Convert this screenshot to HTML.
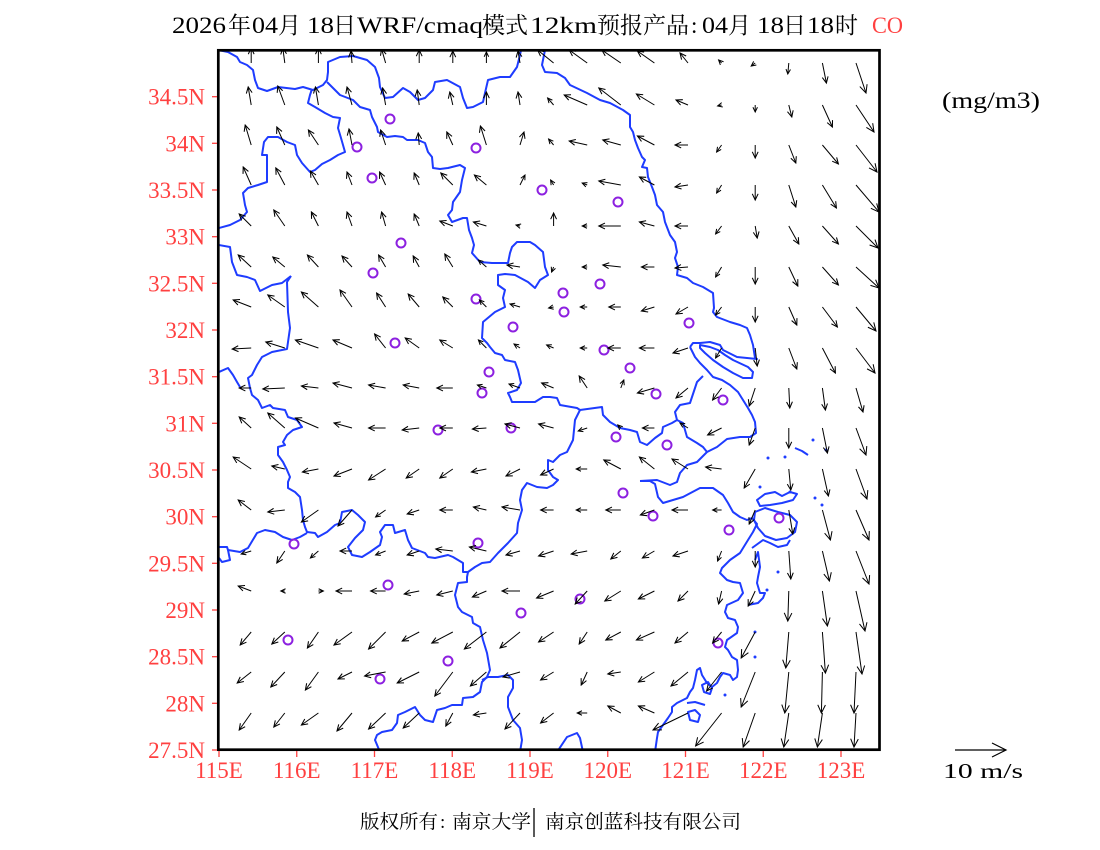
<!DOCTYPE html>
<html><head><meta charset="utf-8"><style>
html,body{margin:0;padding:0;background:#fff;}
svg{display:block;}
.b{fill:none;stroke:#1e3cff;stroke-width:2;stroke-linejoin:round;}
.c{fill:none;stroke:#8c20e0;stroke-width:2;}
.a path{fill:none;stroke:#000;stroke-width:1;}
.s{marker-end:url(#hs);}
.m{marker-end:url(#hm);}
.l{marker-end:url(#hl);}
.lb{font-family:"Liberation Serif",serif;font-size:23px;fill:#ff4040;}
.t{font-family:"Liberation Serif","Noto Serif CJK SC",serif;font-size:23px;fill:#000;}
.f{font-family:"Liberation Serif","Noto Serif CJK SC",serif;font-size:19px;fill:#000;}
</style></head><body>
<svg width="1100" height="850" viewBox="0 0 1100 850" xmlns="http://www.w3.org/2000/svg">
<defs>
<clipPath id="cp"><rect x="219.5" y="51.5" width="659" height="697"/></clipPath>
<marker id="hs" markerUnits="userSpaceOnUse" viewBox="0 0 10 10" refX="9.5" refY="5" markerWidth="5" markerHeight="5" orient="auto" overflow="visible"><path d="M0,0.5L9.5,5L0,9.5" fill="none" stroke="#000" stroke-width="2"/></marker>
<marker id="hm" markerUnits="userSpaceOnUse" viewBox="0 0 10 10" refX="9.5" refY="5" markerWidth="6.5" markerHeight="6.5" orient="auto" overflow="visible"><path d="M0,0.5L9.5,5L0,9.5" fill="none" stroke="#000" stroke-width="1.6"/></marker>
<marker id="hl" markerUnits="userSpaceOnUse" viewBox="0 0 10 10" refX="9.5" refY="5" markerWidth="8.5" markerHeight="8.5" orient="auto" overflow="visible"><path d="M0,0.5L9.5,5L0,9.5" fill="none" stroke="#000" stroke-width="1.2"/></marker>
</defs>
<rect width="1100" height="850" fill="#fff"/>

<!-- Title -->
<text class="t" x="172" y="33" textLength="54" lengthAdjust="spacingAndGlyphs">2026</text>
<text class="t" x="228" y="33">年</text>
<text class="t" x="252" y="33" textLength="26" lengthAdjust="spacingAndGlyphs">04</text>
<text class="t" x="278" y="33">月</text>
<text class="t" x="307" y="33" textLength="27" lengthAdjust="spacingAndGlyphs">18</text>
<text class="t" x="333" y="33">日</text>
<text class="t" x="357" y="33" textLength="126" lengthAdjust="spacingAndGlyphs">WRF/cmaq</text>
<text class="t" x="482" y="33">模式</text>
<text class="t" x="530" y="33" textLength="67" lengthAdjust="spacingAndGlyphs">12km</text>
<text class="t" x="597" y="33">预报产品</text>
<text class="t" x="691" y="33">:</text>
<text class="t" x="702" y="33" textLength="26" lengthAdjust="spacingAndGlyphs">04</text>
<text class="t" x="728" y="33">月</text>
<text class="t" x="757" y="33" textLength="27" lengthAdjust="spacingAndGlyphs">18</text>
<text class="t" x="783" y="33">日</text>
<text class="t" x="807" y="33" textLength="27" lengthAdjust="spacingAndGlyphs">18</text>
<text class="t" x="835" y="33">时</text>
<text class="t" x="872" y="33" textLength="31" lengthAdjust="spacingAndGlyphs" style="fill:#ff4040">CO</text>

<text class="t" x="942" y="108" textLength="98" lengthAdjust="spacingAndGlyphs">(mg/m3)</text>

<!-- map content -->
<g clip-path="url(#cp)">
<g class="b">
<polyline points="218,50 228,52 237,57 240,62 247,65 253,70 255,80 258,88 267,91 278,87 295,89 303,87 313,90 323,85 327,80 328,72 328,62 340,57 353,56 367,60 375,67 379,78 380,87 385,98 393,97 403,88 410,92 418,100 425,98 433,90 435,82 447,80 460,87 463,98 467,108 473,107 483,102 485,93 488,80 500,77 510,77 517,67 520,55 521,50"/>
<polyline points="327,82 330,85 340,95 353,100 360,107 370,110 372,117 377,127 378,132 387,137 395,136 403,137 407,140 418,140 425,143 428,152 432,157 433,168 440,169 448,168 460,165 465,168 462,180 460,192 453,202 452,210 448,215 452,222 463,218 467,218 469,230 472,238 474,245 472,253 480,262 492,263 508,263 510,253 512,247 517,242 530,242 535,245 543,252 545,267 548,275 540,280 535,288 528,282 515,275 505,274 498,275 498,285 505,290 503,298 505,307 495,312 483,322 482,338 487,343 490,347 495,353 502,355 505,360 515,362 518,370 521,383 517,390 508,393 510,397 512,402 535,402 543,397 550,397 557,398 560,405 577,408 580,410 602,407 603,415 610,422 620,428 630,430 637,432 640,442 647,445 655,438 662,433 663,427 672,423 677,420 675,412 680,405 690,403 692,397 695,388 697,382 703,376"/>
<polyline points="312,89 310,95 308,103 315,107 325,113 333,117 340,118 338,128 341,138 345,152 338,155 330,160 322,164 315,170 310,172 302,163 297,155 295,145 287,142 278,137 268,137 264,142 262,155 267,155 267,170 267,182 258,185 248,188 243,193 245,205 247,212 240,220 230,225 219,228"/>
<polyline points="219,245 230,247 232,262 237,275 247,277 255,280 260,291 272,285 282,283 291,276"/>
<polyline points="291,276 287,282 288,312 290,328 287,349 272,352 262,357 257,365 252,375 248,378 250,388 252,395 258,400 262,408 270,405 273,408 285,410 288,417 297,420 302,427 293,430 287,435 283,442 285,445 278,447 278,455 283,462 287,470 290,477 288,482 288,488 295,492 300,497 302,510 303,520 305,527 307,532 315,533 318,537 327,532 335,525 340,523 342,512 352,510 358,515 365,522 363,530 355,538 348,547 352,555 362,557 370,552 380,545 382,537 380,532 385,525 393,525 395,533 405,530 408,540 412,548 425,553 428,557 435,558 448,555 453,557 463,563 463,572 468,572 467,577 467,582 458,583 455,595 458,607 462,612 472,617 473,623 480,627 483,640 487,653 490,670 487,677 482,682 480,692 473,697 463,698 462,705 452,705 445,708 437,710 433,722 425,720 420,715 415,707 405,712 398,715 397,723 392,730 382,732 377,735 375,740 380,752"/>
<polyline points="219,372 228,368 233,375 237,382 240,387"/>
<polyline points="219,547 227,547 228,550 240,552 248,548 257,533 265,530 275,532 283,537 292,540 300,537 307,533"/>
<polyline points="228,550 230,560 222,562 219,558"/>
<polyline points="468,572 475,567 482,563 490,562 498,553 508,543 517,533 518,523 522,510 520,500 522,490 527,483 537,487 547,488 553,485 558,480 553,477 548,470 548,460 553,462 560,455 567,452 573,440 575,420 580,410"/>
<polyline points="482,680 488,677 498,677 508,675 513,680 513,688 508,697 508,707 513,720 520,728 522,740 520,752"/>
<polyline points="557,752 567,737 577,733 580,738 583,752"/>
<polyline points="545,50 542,65 545,72 557,73 565,78 570,85 587,93 600,100 610,103 623,110 630,115 630,127 633,132 635,140 638,148 642,157 645,160 642,167 647,168 648,177 652,187 655,195 657,205 663,212 665,222 670,235 675,242 677,252 675,258 678,267 677,275 687,278 693,283 703,287 713,293 714,308 713,312 717,317 730,322 740,325 747,328 750,335 753,345 755,358 757,359 737,357 723,350 720,345 710,342 700,343 693,343 690,347"/>
<polyline points="690,347 695,357 700,363 707,370 713,377 722,380 730,385 738,392 743,400 748,408 752,415 755,422 756,433 750,437 740,437 727,439 717,447 707,452 697,462 687,465 680,473 677,482 670,485 657,480 640,481"/>
<polyline points="677,420 683,423 687,437 697,443 703,447 707,452"/>
<polygon points="700,345 710,347 718,350 725,355 733,360 748,367 753,372 752,378 743,378 733,373 723,367 713,360 705,353 700,348"/>
<polyline points="640,481 650,481 655,484 658,497 663,503 673,500 683,497 700,488 713,488 723,495 728,503 733,512 740,517 747,520 752,518 757,524 753,532 748,540 740,553 730,560 722,568 720,573 727,580 733,582 740,583 743,593 738,600 727,605 725,612 728,618 735,620 738,627 737,633 727,640 725,647 728,650 732,657 737,660 738,670 737,677 733,680 730,675 723,673 720,677 717,683 712,687 707,683 702,675 700,668 697,670 695,680 693,688 690,692 687,698 677,703 672,707 672,712 668,718 663,725 658,732 657,738 655,752"/>
<polygon points="757,500 765,494 775,492 782,496 790,492 797,494 793,500 782,503 770,505 760,506"/>
<polygon points="755,512 765,508 778,512 790,515 797,522 795,532 787,538 776,540 765,536 758,528 754,520"/>
<polyline points="752,548 763,540 770,543 778,547 787,545 790,540"/>
<polyline points="755,560 758,552 760,567 758,577 757,583 760,593 765,593 763,598 758,603 748,605"/>
<polygon points="702,685 708,682 712,688 710,694 704,692"/>
<polyline points="687,703 695,702 705,705"/>
<polygon points="688,712 695,710 700,715 698,722 690,720"/>
<polyline points="795,448 802,451 808,455"/>
</g>
<g fill="#1e3cff">
<circle cx="768" cy="458" r="1.5"/><circle cx="785" cy="457" r="1.5"/><circle cx="813" cy="440" r="1.5"/><circle cx="826" cy="450" r="1.5"/><circle cx="760" cy="487" r="1.5"/><circle cx="815" cy="498" r="1.5"/><circle cx="822" cy="505" r="1.5"/><circle cx="778" cy="572" r="1.5"/><circle cx="767" cy="590" r="1.5"/><circle cx="755" cy="632" r="1.5"/><circle cx="755" cy="657" r="1.5"/><circle cx="725" cy="695" r="1.5"/><circle cx="790" cy="492" r="1.5"/>
</g>

<g class="c">
<circle cx="390" cy="119" r="4.5"/><circle cx="357" cy="147" r="4.5"/><circle cx="476" cy="148" r="4.5"/><circle cx="372" cy="178" r="4.5"/><circle cx="542" cy="190" r="4.5"/><circle cx="618" cy="202" r="4.5"/><circle cx="401" cy="243" r="4.5"/><circle cx="373" cy="273" r="4.5"/><circle cx="600" cy="284" r="4.5"/><circle cx="563" cy="293" r="4.5"/><circle cx="476" cy="299" r="4.5"/><circle cx="564" cy="312" r="4.5"/><circle cx="513" cy="327" r="4.5"/><circle cx="689" cy="323" r="4.5"/><circle cx="395" cy="343" r="4.5"/><circle cx="604" cy="350" r="4.5"/><circle cx="630" cy="368" r="4.5"/><circle cx="489" cy="372" r="4.5"/><circle cx="482" cy="393" r="4.5"/><circle cx="656" cy="394" r="4.5"/><circle cx="723" cy="400" r="4.5"/><circle cx="438" cy="430" r="4.5"/><circle cx="511" cy="428" r="4.5"/><circle cx="616" cy="437" r="4.5"/><circle cx="667" cy="445" r="4.5"/><circle cx="623" cy="493" r="4.5"/><circle cx="653" cy="516" r="4.5"/><circle cx="729" cy="530" r="4.5"/><circle cx="779" cy="518" r="4.5"/><circle cx="294" cy="544" r="4.5"/><circle cx="478" cy="543" r="4.5"/><circle cx="388" cy="585" r="4.5"/><circle cx="580" cy="599" r="4.5"/><circle cx="521" cy="613" r="4.5"/><circle cx="288" cy="640" r="4.5"/><circle cx="718" cy="643" r="4.5"/><circle cx="448" cy="661" r="4.5"/><circle cx="380" cy="679" r="4.5"/>
</g>

<g class="a">
<path class="m" d="M251.2,63l0,-15"/><path class="m" d="M284.8,63l-2,-15"/><path class="m" d="M318.4,63l0,-15"/><path class="m" d="M352,63l-1,-12"/><path class="m" d="M385.6,63l-4,-14"/><path class="m" d="M419.2,63l0,-13"/><path class="m" d="M452.8,63l0,-12"/><path class="s" d="M486.4,63l0,-11"/><path class="m" d="M520,63l-2,-12"/><path class="m" d="M553.6,63l-16,-13"/><path class="m" d="M587.2,63l-18,-13"/><path class="m" d="M620.8,63l-19,-13"/><path class="m" d="M654.4,63l-17,-12"/><path class="m" d="M688,63l-8,-10"/><path class="s" d="M721.6,63l-3,-3"/><path class="s" d="M755.2,63l-4,3"/><path class="s" d="M788.8,63l-1,11"/><path class="m" d="M822.4,63l4,20"/><path class="l" d="M856,63l10,30"/>
<path class="m" d="M251.2,105l-3,-18"/><path class="m" d="M284.8,105l-7,-19"/><path class="m" d="M318.4,105l-3,-18"/><path class="m" d="M352,105l-5,-18"/><path class="m" d="M385.6,105l-3,-17"/><path class="m" d="M419.2,105l-2,-15"/><path class="m" d="M452.8,105l-3,-13"/><path class="m" d="M486.4,105l0,-13"/><path class="m" d="M520,105l-2,-13"/><path class="s" d="M553.6,105l-6,-7"/><path class="m" d="M587.2,105l-23,-10"/><path class="m" d="M620.8,105l-22,-17"/><path class="m" d="M654.4,105l-18,-11"/><path class="m" d="M688,105l-12,-5"/><path class="s" d="M721.6,105l-4,1"/><path class="s" d="M755.2,105l0,7"/><path class="m" d="M788.8,105l3,12"/><path class="m" d="M822.4,105l10,22"/><path class="l" d="M856,105l18,27"/>
<path class="m" d="M251.2,145l-6,-20"/><path class="m" d="M284.8,145l-8,-18"/><path class="m" d="M318.4,145l-10,-15"/><path class="m" d="M352,145l-3,-16"/><path class="m" d="M385.6,145l-5,-15"/><path class="m" d="M419.2,145l-1,-12"/><path class="m" d="M452.8,145l-6,-13"/><path class="m" d="M486.4,145l-6,-19"/><path class="m" d="M520,145l4,-13"/><path class="s" d="M553.6,145l-5,-6"/><path class="m" d="M587.2,145l-18,-4"/><path class="m" d="M620.8,145l-18,-5"/><path class="m" d="M654.4,145l-17,-9"/><path class="m" d="M688,145l-13,0"/><path class="s" d="M721.6,145l-5,7"/><path class="m" d="M755.2,145l0,13"/><path class="m" d="M788.8,145l7,18"/><path class="m" d="M822.4,145l16,19"/><path class="l" d="M856,145l21,27"/>
<path class="m" d="M251.2,185l-8,-18"/><path class="m" d="M284.8,185l-9,-17"/><path class="m" d="M318.4,185l-8,-14"/><path class="m" d="M352,185l-5,-13"/><path class="m" d="M385.6,185l-6,-13"/><path class="m" d="M419.2,185l-5,-12"/><path class="m" d="M452.8,185l-12,-12"/><path class="m" d="M486.4,185l-12,-10"/><path class="s" d="M520,185l5,-10"/><path class="s" d="M553.6,185l-3,-5"/><path class="s" d="M587.2,185l-5,-2"/><path class="m" d="M620.8,185l-22,-4"/><path class="m" d="M654.4,185l-15,-8"/><path class="m" d="M688,185l-13,2"/><path class="s" d="M721.6,185l-5,8"/><path class="m" d="M755.2,185l0,15"/><path class="m" d="M788.8,185l7,22"/><path class="m" d="M822.4,185l14,23"/><path class="l" d="M856,185l23,27"/>
<path class="m" d="M251.2,226l-12,-12"/><path class="m" d="M284.8,226l-11,-16"/><path class="m" d="M318.4,226l-7,-14"/><path class="m" d="M352,226l-5,-14"/><path class="m" d="M385.6,226l-4,-14"/><path class="m" d="M419.2,226l-5,-12"/><path class="m" d="M452.8,226l-13,-5"/><path class="m" d="M486.4,226l-13,-4"/><path class="s" d="M520,226l-4,-1"/><path class="m" d="M553.6,226l0,-13"/><path class="s" d="M587.2,226l-5,0"/><path class="m" d="M620.8,226l-22,0"/><path class="m" d="M654.4,226l-15,-4"/><path class="m" d="M688,226l-13,0"/><path class="s" d="M721.6,226l-6,8"/><path class="m" d="M755.2,226l2,12"/><path class="m" d="M788.8,226l10,18"/><path class="m" d="M822.4,226l16,18"/><path class="l" d="M856,226l22,22"/>
<path class="m" d="M251.2,267l-13,-12"/><path class="m" d="M284.8,267l-12,-10"/><path class="m" d="M318.4,267l-11,-12"/><path class="m" d="M352,267l-10,-11"/><path class="m" d="M385.6,267l-7,-12"/><path class="m" d="M419.2,267l-6,-11"/><path class="m" d="M452.8,267l-8,-13"/><path class="s" d="M486.4,267l-8,-7"/><path class="m" d="M520,267l-13,-2"/><path class="s" d="M553.6,267l-2,5"/><path class="s" d="M587.2,267l-5,0"/><path class="m" d="M620.8,267l-18,-2"/><path class="m" d="M654.4,267l-13,0"/><path class="m" d="M688,267l-13,1"/><path class="s" d="M721.6,267l-6,10"/><path class="m" d="M755.2,267l0,17"/><path class="m" d="M788.8,267l9,19"/><path class="m" d="M822.4,267l16,18"/><path class="l" d="M856,267l23,21"/>
<path class="m" d="M251.2,307l-18,-7"/><path class="m" d="M284.8,307l-17,-12"/><path class="m" d="M318.4,307l-17,-15"/><path class="m" d="M352,307l-12,-17"/><path class="m" d="M385.6,307l-9,-14"/><path class="m" d="M419.2,307l-11,-13"/><path class="m" d="M452.8,307l-10,-10"/><path class="s" d="M486.4,307l-7,-7"/><path class="s" d="M520,307l-10,-3"/><path class="s" d="M553.6,307l-5,1"/><path class="s" d="M587.2,307l-7,0"/><path class="m" d="M620.8,307l-12,0"/><path class="m" d="M654.4,307l-13,4"/><path class="m" d="M688,307l-12,7"/><path class="s" d="M721.6,307l-6,8"/><path class="m" d="M755.2,307l0,15"/><path class="m" d="M788.8,307l8,18"/><path class="m" d="M822.4,307l15,20"/><path class="l" d="M856,307l20,24"/>
<path class="m" d="M251.2,348l-19,1"/><path class="m" d="M284.8,348l-19,-6"/><path class="m" d="M318.4,348l-23,-8"/><path class="m" d="M352,348l-19,-8"/><path class="m" d="M385.6,348l-11,-14"/><path class="m" d="M419.2,348l-14,-10"/><path class="m" d="M452.8,348l-13,-8"/><path class="s" d="M486.4,348l-8,-8"/><path class="s" d="M520,348l-6,-4"/><path class="s" d="M553.6,348l-7,-3"/><path class="s" d="M587.2,348l-7,0"/><path class="m" d="M620.8,348l-13,0"/><path class="m" d="M654.4,348l-15,0"/><path class="m" d="M688,348l-15,5"/><path class="s" d="M721.6,348l-6,10"/><path class="m" d="M755.2,348l2,18"/><path class="m" d="M788.8,348l8,21"/><path class="m" d="M822.4,348l13,25"/><path class="l" d="M856,348l19,25"/>
<path class="m" d="M251.2,388l-12,0"/><path class="m" d="M284.8,388l-22,1"/><path class="m" d="M318.4,388l-17,-2"/><path class="m" d="M352,388l-19,-5"/><path class="m" d="M385.6,388l-17,-3"/><path class="m" d="M419.2,388l-16,-3"/><path class="m" d="M452.8,388l-16,0"/><path class="s" d="M486.4,388l-9,-3"/><path class="s" d="M520,388l-11,-4"/><path class="m" d="M553.6,388l-12,-5"/><path class="m" d="M587.2,388l-8,-12"/><path class="s" d="M620.8,388l3,-8"/><path class="m" d="M654.4,388l-17,5"/><path class="m" d="M688,388l-12,10"/><path class="m" d="M721.6,388l-9,12"/><path class="m" d="M755.2,388l-6,18"/><path class="m" d="M788.8,388l1,20"/><path class="m" d="M822.4,388l3,22"/><path class="m" d="M856,388l7,24"/>
<path class="m" d="M251.2,428l-12,-11"/><path class="m" d="M284.8,428l-17,-15"/><path class="m" d="M318.4,428l-23,-10"/><path class="m" d="M352,428l-18,-5"/><path class="m" d="M385.6,428l-17,0"/><path class="m" d="M419.2,428l-17,2"/><path class="m" d="M452.8,428l-13,0"/><path class="m" d="M486.4,428l-14,1"/><path class="m" d="M520,428l-15,-4"/><path class="m" d="M553.6,428l-15,-4"/><path class="s" d="M587.2,428l-9,3"/><path class="s" d="M620.8,428l-3,-3"/><path class="m" d="M654.4,428l-12,0"/><path class="s" d="M688,428l-8,-5"/><path class="m" d="M721.6,428l-14,7"/><path class="m" d="M755.2,428l-6,17"/><path class="m" d="M788.8,428l0,20"/><path class="m" d="M822.4,428l5,25"/><path class="l" d="M856,428l10,27"/>
<path class="m" d="M251.2,469l-18,-12"/><path class="m" d="M284.8,469l-13,-3"/><path class="m" d="M318.4,469l-16,3"/><path class="m" d="M352,469l-18,7"/><path class="m" d="M385.6,469l-17,11"/><path class="m" d="M419.2,469l-13,9"/><path class="m" d="M452.8,469l-13,9"/><path class="m" d="M486.4,469l-15,3"/><path class="m" d="M520,469l-14,7"/><path class="m" d="M553.6,469l-13,6"/><path class="s" d="M587.2,469l-11,0"/><path class="m" d="M620.8,469l-17,-9"/><path class="m" d="M654.4,469l-15,-12"/><path class="m" d="M688,469l-16,-10"/><path class="m" d="M721.6,469l-16,-2"/><path class="m" d="M755.2,469l-11,19"/><path class="m" d="M788.8,469l2,21"/><path class="m" d="M822.4,469l6,27"/><path class="l" d="M856,469l11,30"/>
<path class="m" d="M251.2,510l-13,-10"/><path class="m" d="M284.8,510l-17,2"/><path class="m" d="M318.4,510l-17,12"/><path class="m" d="M352,510l-14,16"/><path class="s" d="M385.6,510l-10,7"/><path class="m" d="M419.2,510l-12,4"/><path class="m" d="M452.8,510l-13,0"/><path class="m" d="M486.4,510l-13,-3"/><path class="m" d="M520,510l-18,-3"/><path class="m" d="M553.6,510l-13,0"/><path class="s" d="M587.2,510l-11,0"/><path class="m" d="M620.8,510l-15,0"/><path class="m" d="M654.4,510l-14,5"/><path class="m" d="M688,510l-16,0"/><path class="s" d="M721.6,510l-9,0"/><path class="m" d="M755.2,510l-6,14"/><path class="m" d="M788.8,510l4,24"/><path class="l" d="M822.4,510l8,30"/><path class="l" d="M856,510l13,30"/>
<path class="s" d="M251.2,551l-10,3"/><path class="m" d="M284.8,551l-8,12"/><path class="s" d="M318.4,551l-8,7"/><path class="m" d="M352,551l-12,0"/><path class="s" d="M385.6,551l-10,4"/><path class="m" d="M419.2,551l-12,4"/><path class="m" d="M452.8,551l-17,-2"/><path class="m" d="M486.4,551l-17,-4"/><path class="m" d="M520,551l-14,4"/><path class="m" d="M553.6,551l-15,5"/><path class="m" d="M587.2,551l-16,3"/><path class="m" d="M620.8,551l-10,8"/><path class="m" d="M654.4,551l-12,7"/><path class="m" d="M688,551l-15,5"/><path class="s" d="M721.6,551l-4,10"/><path class="m" d="M755.2,551l0,16"/><path class="m" d="M788.8,551l2,28"/><path class="l" d="M822.4,551l7,30"/><path class="l" d="M856,551l13,33"/>
<path class="m" d="M251.2,591l-13,-5"/><path class="s" d="M284.8,591l-4,0"/><path class="s" d="M318.4,591l5,0"/><path class="m" d="M352,591l-16,0"/><path class="m" d="M385.6,591l-15,0"/><path class="m" d="M419.2,591l-15,3"/><path class="m" d="M452.8,591l-16,4"/><path class="m" d="M486.4,591l-14,6"/><path class="m" d="M520,591l-18,0"/><path class="m" d="M553.6,591l-17,7"/><path class="m" d="M587.2,591l-12,13"/><path class="m" d="M620.8,591l-16,10"/><path class="m" d="M654.4,591l-16,8"/><path class="m" d="M688,591l-10,10"/><path class="m" d="M721.6,591l-3,13"/><path class="m" d="M755.2,591l-7,15"/><path class="l" d="M788.8,591l-1,30"/><path class="l" d="M822.4,591l5,35"/><path class="l" d="M856,591l9,40"/>
<path class="m" d="M251.2,632l-11,13"/><path class="m" d="M284.8,632l-13,12"/><path class="m" d="M318.4,632l-11,16"/><path class="m" d="M352,632l-18,13"/><path class="m" d="M385.6,632l-17,17"/><path class="m" d="M419.2,632l-17,9"/><path class="m" d="M452.8,632l-21,11"/><path class="m" d="M486.4,632l-22,17"/><path class="m" d="M520,632l-20,16"/><path class="m" d="M553.6,632l-15,10"/><path class="m" d="M587.2,632l-8,12"/><path class="m" d="M620.8,632l-15,8"/><path class="m" d="M654.4,632l-18,8"/><path class="m" d="M688,632l-13,11"/><path class="m" d="M721.6,632l-9,11"/><path class="l" d="M755.2,632l-14,26"/><path class="l" d="M788.8,632l-3,36"/><path class="l" d="M822.4,632l3,41"/><path class="l" d="M856,632l6,42"/>
<path class="m" d="M251.2,672l-14,11"/><path class="m" d="M284.8,672l-14,15"/><path class="m" d="M318.4,672l-13,18"/><path class="m" d="M352,672l-14,7"/><path class="m" d="M385.6,672l-21,4"/><path class="m" d="M419.2,672l-22,11"/><path class="m" d="M452.8,672l-18,24"/><path class="m" d="M486.4,672l-16,14"/><path class="m" d="M520,672l-17,5"/><path class="m" d="M553.6,672l-13,8"/><path class="m" d="M587.2,672l-6,13"/><path class="m" d="M620.8,672l-13,2"/><path class="m" d="M654.4,672l-16,10"/><path class="m" d="M688,672l-17,14"/><path class="m" d="M721.6,672l-15,19"/><path class="l" d="M755.2,672l-14,35"/><path class="l" d="M788.8,672l-4,41"/><path class="l" d="M822.4,672l-1,41"/><path class="l" d="M856,672l-2,41"/>
<path class="m" d="M251.2,713l-12,17"/><path class="m" d="M284.8,713l-11,14"/><path class="m" d="M318.4,713l-17,12"/><path class="m" d="M352,713l-15,18"/><path class="m" d="M385.6,713l-17,16"/><path class="m" d="M419.2,713l-16,15"/><path class="m" d="M452.8,713l-7,13"/><path class="m" d="M486.4,713l-13,2"/><path class="m" d="M520,713l-15,16"/><path class="m" d="M553.6,713l-13,10"/><path class="s" d="M587.2,713l-10,0"/><path class="m" d="M620.8,713l-13,-7"/><path class="m" d="M654.4,713l-16,-7"/><path class="l" d="M688,713l-35,17"/><path class="l" d="M721.6,713l-26,33"/><path class="l" d="M755.2,713l-12,34"/><path class="l" d="M788.8,713l-5,34"/><path class="l" d="M822.4,713l-5,34"/><path class="l" d="M856,713l-2,34"/>
</g>
</g>

<!-- frame -->
<rect x="218.3" y="50.3" width="661.2" height="699.4" fill="none" stroke="#000" stroke-width="2.7"/>

<!-- ticks -->
<g stroke="#ff4040" stroke-width="1.3">
<line x1="212" y1="750" x2="217" y2="750"/><line x1="212" y1="703.3" x2="217" y2="703.3"/><line x1="212" y1="656.7" x2="217" y2="656.7"/><line x1="212" y1="610" x2="217" y2="610"/><line x1="212" y1="563.3" x2="217" y2="563.3"/><line x1="212" y1="516.7" x2="217" y2="516.7"/><line x1="212" y1="470" x2="217" y2="470"/><line x1="212" y1="423.3" x2="217" y2="423.3"/><line x1="212" y1="376.7" x2="217" y2="376.7"/><line x1="212" y1="330" x2="217" y2="330"/><line x1="212" y1="283.3" x2="217" y2="283.3"/><line x1="212" y1="236.7" x2="217" y2="236.7"/><line x1="212" y1="190" x2="217" y2="190"/><line x1="212" y1="143.3" x2="217" y2="143.3"/><line x1="212" y1="96.7" x2="217" y2="96.7"/>
<line x1="219" y1="751" x2="219" y2="757"/><line x1="296.75" y1="751" x2="296.75" y2="757"/><line x1="374.5" y1="751" x2="374.5" y2="757"/><line x1="452.25" y1="751" x2="452.25" y2="757"/><line x1="530" y1="751" x2="530" y2="757"/><line x1="607.75" y1="751" x2="607.75" y2="757"/><line x1="685.5" y1="751" x2="685.5" y2="757"/><line x1="763.25" y1="751" x2="763.25" y2="757"/><line x1="841" y1="751" x2="841" y2="757"/>
</g>

<!-- lat labels -->
<g class="lb" text-anchor="end">
<text x="205" y="758">27.5N</text><text x="205" y="711.3">28N</text><text x="205" y="664.7">28.5N</text><text x="205" y="618">29N</text><text x="205" y="571.3">29.5N</text><text x="205" y="524.7">30N</text><text x="205" y="478">30.5N</text><text x="205" y="431.3">31N</text><text x="205" y="384.7">31.5N</text><text x="205" y="338">32N</text><text x="205" y="291.3">32.5N</text><text x="205" y="244.7">33N</text><text x="205" y="198">33.5N</text><text x="205" y="151.3">34N</text><text x="205" y="104.7">34.5N</text>
</g>
<!-- lon labels -->
<g class="lb" text-anchor="middle">
<text x="219" y="778">115E</text><text x="296.75" y="778">116E</text><text x="374.5" y="778">117E</text><text x="452.25" y="778">118E</text><text x="530" y="778">119E</text><text x="607.75" y="778">120E</text><text x="685.5" y="778">121E</text><text x="763.25" y="778">122E</text><text x="841" y="778">123E</text>
</g>

<!-- reference vector -->
<g stroke="#000" stroke-width="1.2" fill="none">
<line x1="955" y1="750" x2="1006" y2="750"/>
<polyline points="992,743 1006,750 992,757"/>
</g>
<text class="t" x="943" y="778" textLength="80" lengthAdjust="spacingAndGlyphs" style="font-size:21px">10 m/s</text>

<!-- footer -->
<text class="f" x="360" y="828" textLength="78" lengthAdjust="spacingAndGlyphs">版权所有</text>
<text class="f" x="440" y="828">:</text>
<text class="f" x="452" y="828" textLength="79" lengthAdjust="spacingAndGlyphs">南京大学</text>
<line x1="534" y1="808" x2="534" y2="837" stroke="#000" stroke-width="1.3"/>
<text class="f" x="545" y="828" textLength="196" lengthAdjust="spacingAndGlyphs">南京创蓝科技有限公司</text>
</svg>
</body></html>
